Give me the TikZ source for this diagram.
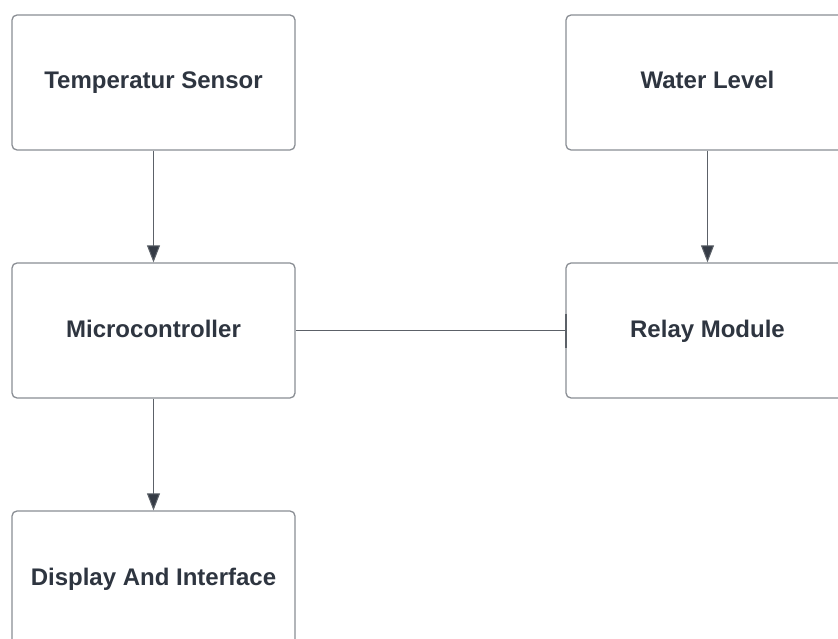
\documentclass[tikz,border=0pt]{standalone}
\usepackage{fontspec}
\setmainfont{Liberation Sans}
\usetikzlibrary{arrows.meta,positioning}
\definecolor{boxline}{HTML}{8A8E94}
\definecolor{linkline}{HTML}{5C6168}
\definecolor{tipfill}{HTML}{353B45}
\definecolor{labeltext}{HTML}{2E3540}

\begin{document}
\begin{tikzpicture}[
 x=1pt, y=-1pt,
 block/.style={rectangle, draw=boxline, line width=1.3pt, rounded corners=5pt, fill=white, minimum width=283pt, minimum height=135pt, inner sep=0pt, text height=16.5pt, text depth=3.5pt, font=\fontsize{24}{28}\selectfont\bfseries, text=labeltext},
 arr/.style={-{Triangle[length=17pt, width=13pt, fill=tipfill]}, linkline, line width=1pt},
 tee/.style={-{Bar[width=34pt, line width=2pt]}, linkline, line width=1pt, shorten >=-1.5pt},
]
\clip (0,0) rectangle (838,639);
\fill[white] (0,0) rectangle (838,639);

\node[block] (temp) at (153.5,82.5) {Temperatur Sensor};
\node[block] (water) at (707.5,82.5) {Water Level};
\node[block] (mcu) at (153.5,330.5) {Microcontroller};
\node[block] (relay) at (707.5,330.5) {Relay Module};
\node[block] (disp) at (153.5,578.5) {Display And Interface};

% Vertical
\draw[arr] (temp) -- (mcu);
\draw[arr] (water) -- (relay);
\draw[arr] (mcu) -- (disp);

% Horizontal
\draw[tee] (mcu) -- (relay);

\end{tikzpicture}
\end{document}
